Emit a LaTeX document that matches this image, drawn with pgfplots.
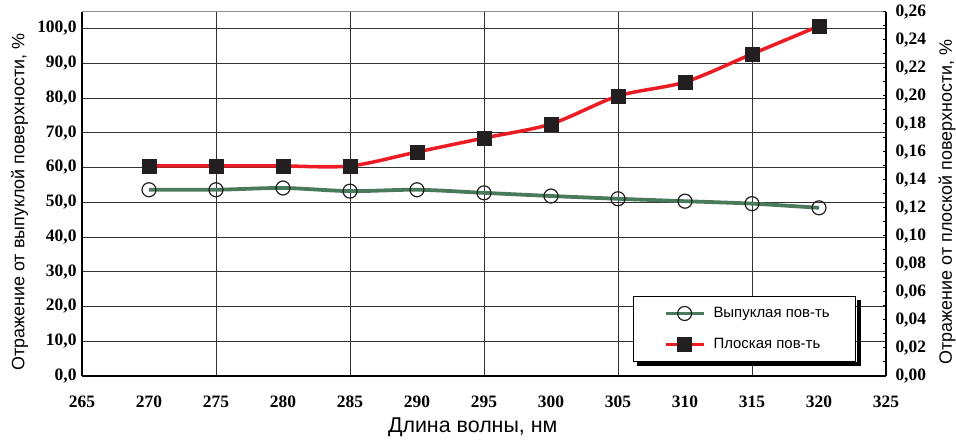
\documentclass[border=0pt]{standalone}
\usepackage{fontspec}
\setmainfont{Liberation Serif}
\newfontfamily\arial{Liberation Sans}
\usepackage{pgfplots}
\pgfplotsset{compat=1.18}

\definecolor{cgreen}{RGB}{74,122,92}
\definecolor{cred}{RGB}{237,28,36}
\definecolor{cmark}{RGB}{35,31,32}

\pgfplotsset{
  base/.style={
    at={(82bp,65bp)}, anchor=south west,
    scale only axis, width=804bp, height=364bp,
    xmin=265, xmax=325,
    /pgf/number format/assume math mode=true,
    tick label style={font=\fontsize{17.5}{19}\selectfont\bfseries},
    axis line style={-, line width=1.3bp, black},
  },
  gstyle/.style={color=cgreen, line width=3.8bp, smooth, tension=0.5,
    mark=o, mark size=7bp, mark options={draw=cmark, line width=1.2bp, fill=none}},
  rstyle/.style={color=cred, line width=3.5bp, smooth, tension=0.5,
    mark=square*, mark size=7bp, mark options={draw=cmark, fill=cmark, line width=0.4bp}},
}

\begin{document}
\begin{tikzpicture}
\path[use as bounding box] (0,0) rectangle (956bp,441bp);

\begin{axis}[base,
  axis x line*=bottom, axis y line*=left,
  ymin=0, ymax=104.75,
  ytick={0,10,20,30,40,50,60,70,80,90,100},
  yticklabel style={/pgf/number format/fixed, /pgf/number format/fixed zerofill,
    /pgf/number format/precision=1, /pgf/number format/use comma, xshift=-2bp},
  xtick={265,275,285,295,305,315,325},
  extra x ticks={270,280,290,300,310,320},
  extra x tick style={grid=none},
  xticklabel style={yshift=-16bp},
  major tick length=0pt,
  xmajorgrids, ymajorgrids,
  major grid style={black!80, line width=1bp},
  xlabel={\arial\fontsize{21.5}{24}\selectfont Длина волны, нм},
  every axis x label/.style={at={(axis description cs:0.486,-0.14)}, anchor=center},
  ylabel={\arial\fontsize{18}{20}\selectfont Отражение от выпуклой поверхности, \%},
  every axis y label/.style={at={(axis description cs:-0.0777,0.478)}, rotate=90, anchor=center},
]
\draw[black!45, line width=1bp] (rel axis cs:0,1) -- (rel axis cs:1,1);
\addplot[gstyle] table {
x y
270 53.6
275 53.6
280 54.1
285 53.2
290 53.6
295 52.7
300 51.8
305 51.0
310 50.3
315 49.6
320 48.4
};
\end{axis}

\begin{axis}[base,
  axis x line=none, axis y line*=right,
  ymin=0, ymax=0.26,
  scaled y ticks=false,
  ytick={0,0.02,0.04,0.06,0.08,0.10,0.12,0.14,0.16,0.18,0.20,0.22,0.24,0.26},
  minor y tick num=1,
  tick align=inside,
  major tick length=3bp, minor tick length=3bp,
  tick style={black, line width=1bp},
  yticklabel style={/pgf/number format/fixed, /pgf/number format/fixed zerofill,
    /pgf/number format/precision=2, /pgf/number format/use comma, xshift=6bp},
  ylabel={\arial\fontsize{18}{20}\selectfont Отражение от плоской поверхности, \%},
  every axis y label/.style={at={(axis description cs:1.0759,0.478)}, rotate=90, anchor=center},
  legend style={
    name=leg,
    at={(rel axis cs:0.9627,0.0385)}, anchor=south east,
    draw=black, line width=1bp, fill=white,
    inner xsep=0bp, inner ysep=10bp,
    font=\arial\fontsize{15}{17}\selectfont,
    row sep=17bp,
    nodes={inner sep=0pt},
  },
  legend cell align=left,
  legend image code/.code={\path (-30bp,0bp) (46bp,0bp); \draw[mark repeat=2, mark phase=2, #1] plot coordinates {(0bp,0bp) (19bp,0bp) (38bp,0bp)};},
]
\addlegendimage{gstyle}
\addlegendentry{\makebox[142bp][l]{Выпуклая пов-ть}}
\addplot[rstyle] table {
x y
270 0.15
275 0.15
280 0.15
285 0.15
290 0.16
295 0.17
300 0.18
305 0.20
310 0.21
315 0.23
320 0.25
};
\addlegendentry{\makebox[142bp][l]{Плоская пов-ть}}
\end{axis}
\fill[black] ([xshift=0.5bp]leg.north east) ++(0,-4bp) rectangle ([xshift=4.5bp,yshift=-4.5bp]leg.south east);
\fill[black] ([yshift=-0.5bp,xshift=4bp]leg.south west) rectangle ([xshift=4.5bp,yshift=-4.5bp]leg.south east);
\end{tikzpicture}
\end{document}
